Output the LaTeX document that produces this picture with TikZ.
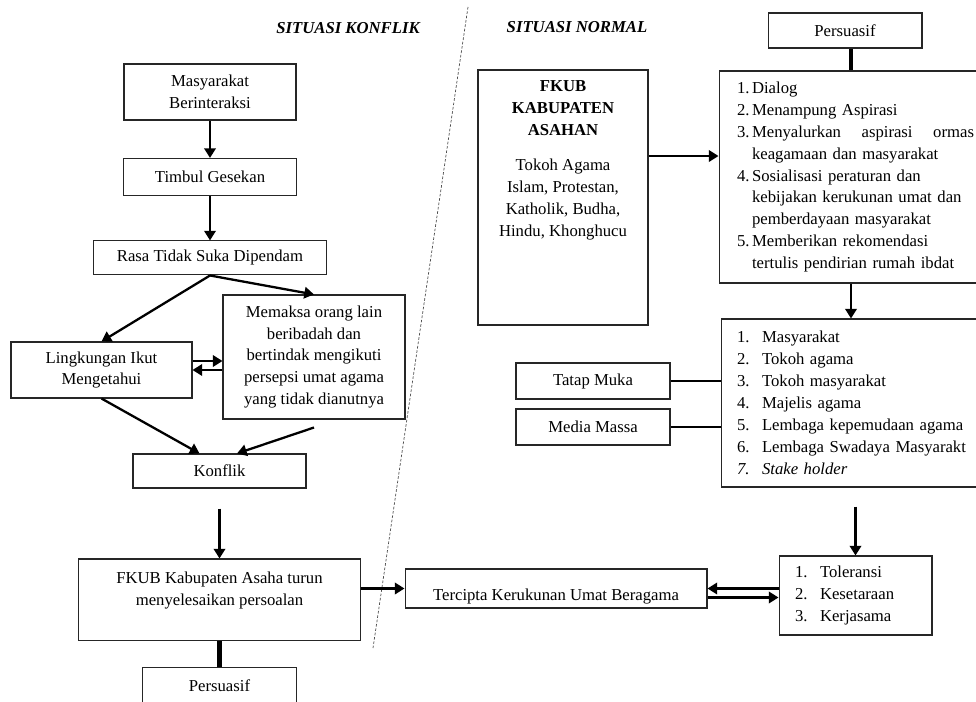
\documentclass[tikz,border=0pt]{standalone}
\usepackage{fontspec}
\setmainfont{Liberation Serif}
\usepackage{tikz}
\usetikzlibrary{shapes.geometric, arrows, arrows.meta, positioning}
\tikzstyle{process} = [rectangle, align=center, draw=black!85, fill=none, line width=0.6pt, inner sep=1pt, font=\fontsize{9.5}{12.5}\selectfont]
\tikzstyle{listbox} = [rectangle, align=left, draw=black!85, fill=none, line width=0.6pt, inner sep=1pt, font=\fontsize{9.5}{12.5}\selectfont]
\tikzstyle{heading} = [font=\fontsize{9.5}{12.5}\selectfont\bfseries\itshape]
\tikzstyle{arrow} = [line width=1.3pt,-{Triangle[length=5.5pt,width=6.5pt]}]
\tikzstyle{link} = [line width=1.4pt]
\newcommand{\itemno}[2]{\makebox[#1][l]{#2.}}

\begin{document}
\begin{tikzpicture}[x=0.02cm, y=-0.02cm, node distance=1.7cm]
        \useasboundingbox (0,0) rectangle (976,702);

        \node (head1) [heading] at (348,28) {SITUASI KONFLIK};
        \node (head2) [heading] at (577,27) {SITUASI NORMAL};
        \coordinate (sep1) at (468,7);
        \coordinate (sep2) at (373,648);
        \draw [dashed, dash pattern=on 1.5pt off 1pt, line width=0.4pt, black!70] (sep1) -- (sep2);

        % situasi konflik
        \node (proc1) [process, minimum width=3.44cm, minimum height=1.12cm] at (210,92) {Masyarakat\\Berinteraksi};
        \node (proc2) [process, minimum width=3.46cm, minimum height=0.74cm, below of=proc1] {Timbul Gesekan};
        \node (proc3) [process, minimum width=4.66cm, minimum height=0.68cm, below of=proc2, yshift=0.08cm] {Rasa Tidak Suka Dipendam};
        \node (proc4) [process, minimum width=3.64cm, minimum height=2.48cm] at (314,357) {Memaksa orang lain\\beribadah dan\\bertindak mengikuti\\persepsi umat agama\\yang tidak dianutnya};
        \node (proc5) [process, minimum width=3.62cm, minimum height=1.12cm] at (101.5,370) {Lingkungan Ikut\\Mengetahui};
        \node (proc6) [process, minimum width=3.46cm, minimum height=0.68cm] at (219.5,471) {Konflik};
        \node (proc7) [process, minimum width=5.64cm, minimum height=1.64cm, below of=proc6, yshift=-0.88cm] {FKUB Kabupaten Asaha turun\\menyelesaikan persoalan\\ \mbox{}};
        \node (proc8) [process, minimum width=3.08cm, minimum height=0.72cm, below of=proc7, yshift=-0.02cm] {Persuasif};

        % situasi normal
        \node (persuasif2) [process, minimum width=3.08cm, minimum height=0.70cm] at (845,30.5) {Persuasif};
        \node (fkub) [process, minimum width=3.4cm, minimum height=5.1cm] at (563,197.5) {\textbf{FKUB}\\\textbf{KABUPATEN}\\\textbf{ASAHAN}\\[0.26cm]Tokoh Agama\\Islam, Protestan,\\Katholik, Budha,\\Hindu, Khonghucu\\[1.12cm]\mbox{}};
        \node (list1) [listbox, text width=4.76cm, minimum width=5.48cm, minimum height=4.24cm] at (856,177) {\itemno{0.3cm}{1}Dialog\\
            \itemno{0.3cm}{2}Menampung Aspirasi\\
            \itemno{0.3cm}{3}\makebox[4.44cm][s]{Menyalurkan\hfill aspirasi\hfill ormas}\\
            \hspace*{0.3cm}keagamaan dan masyarakat\\
            \itemno{0.3cm}{4}Sosialisasi peraturan dan\\
            \hspace*{0.3cm}kebijakan kerukunan umat dan\\
            \hspace*{0.3cm}pemberdayaan masyarakat\\
            \itemno{0.3cm}{5}Memberikan rekomendasi\\
            \hspace*{0.3cm}tertulis pendirian rumah ibdat};
        \node (list2) [listbox, text width=4.8cm, minimum width=5.44cm, minimum height=3.36cm] at (857,403) {\itemno{0.5cm}{1}Masyarakat\\
            \itemno{0.5cm}{2}Tokoh agama\\
            \itemno{0.5cm}{3}Tokoh masyarakat\\
            \itemno{0.5cm}{4}Majelis agama\\
            \itemno{0.5cm}{5}Lembaga kepemudaan agama\\
            \itemno{0.5cm}{6}Lembaga Swadaya Masyarakt\\
            \textit{\itemno{0.5cm}{7}Stake holder}};
        \node (tatap) [process, minimum width=3.08cm, minimum height=0.72cm] at (593,381) {Tatap Muka};
        \node (media) [process, minimum width=3.08cm, minimum height=0.72cm] at (593,427) {Media Massa};
        \node (tol) [listbox, text width=2.42cm, minimum width=3.06cm, minimum height=1.58cm] at (855.5,595.5) {\itemno{0.5cm}{1}Toleransi\\
            \itemno{0.5cm}{2}Kesetaraan\\
            \itemno{0.5cm}{3}Kerjasama};
        \node (tercipta) [process, minimum width=6.04cm, minimum height=0.78cm] at (556,588.5) {\raisebox{-4.5pt}[\height][\depth]{Tercipta Kerukunan Umat Beragama}};

        \coordinate (point1) at ([yshift=0.18cm]proc5.east);
        \coordinate (point2) at ([yshift=-0.16cm]proc4.south);
        \coordinate (point3) at ([yshift=-0.4cm]proc6.south);
        \coordinate (point4) at ([yshift=-0.18cm]tercipta.east);
        \coordinate (point5) at ([xshift=0.12cm]persuasif2.south);
        \coordinate (point6) at (tol.north |- list2.south);
        \coordinate (point7) at ([yshift=0.83cm]fkub.east);

        \draw [arrow] (proc1.south) -- (proc1.south |- proc2.north);
        \draw [arrow] (proc2.south) -- (proc2.south |- proc3.north);
        \draw [arrow] (proc3.south) -- (proc5.north);
        \draw [arrow] (proc3.south) -- (proc4.north);
        \draw [arrow] (point1) -- (point1 -| proc4.west);
        \draw [arrow] (proc4.west |- proc5.east) -- (proc5.east);
        \draw [arrow] (proc5.south) -- ([xshift=-0.4cm]proc6.north);
        \draw [arrow] (point2) -- ([xshift=0.35cm]proc6.north);
        \draw [arrow] (point3) -- (point3 |- proc7.north);
        \draw [line width=2.3pt] (proc7.south) -- (proc8.north);
        \draw [arrow] (proc7.east |- tercipta.west) -- (tercipta.west);
        \draw [arrow] (tol.west |- tercipta.east) -- (tercipta.east);
        \draw [arrow] (point4) -- (point4 -| tol.west);

        \draw [line width=2pt] (point5) -- (point5 |- list1.north);
        \draw [arrow] (point7) -- (point7 -| list1.west);
        \draw [arrow] (point5 |- list1.south) -- (point5 |- list2.north);
        \draw [link] (tatap.east) -- (tatap.east -| list2.west);
        \draw [link] (media.east) -- (media.east -| list2.west);
        \draw [arrow] ([yshift=-0.38cm]point6) -- (tol.north);

    \end{tikzpicture}
\end{document}
